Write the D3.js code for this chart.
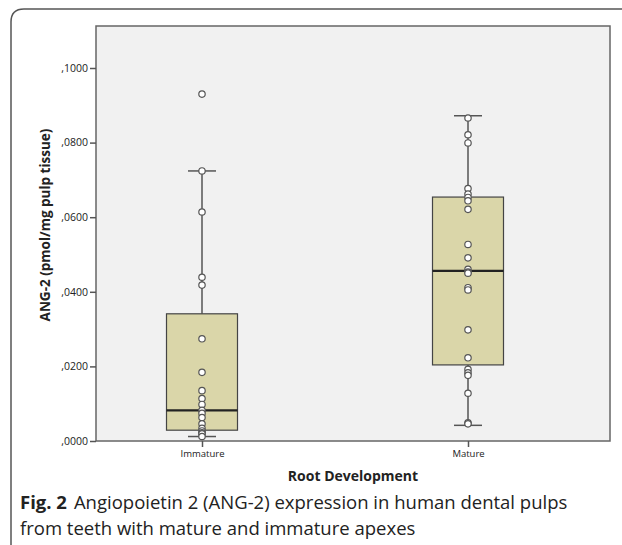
<!DOCTYPE html>
<html><head><meta charset="utf-8">
<script src="https://cdn.jsdelivr.net/npm/d3@7"></script>
<style>body{margin:0;background:#fff}</style>
</head><body>
<script>
const categories = ["Immature", "Mature"];
const immatureStats = {min: 0.0012, q1: 0.0029, median: 0.0082, q3: 0.0341, max: 0.0724};
const matureStats = {min: 0.0042, q1: 0.0204, median: 0.0456, q3: 0.0654, max: 0.0872};
const immaturePoints = [0.0930, 0.0724, 0.0614, 0.0439, 0.0418, 0.0274, 0.0184, 0.0135, 0.0114, 0.0098, 0.0082, 0.0074, 0.0063, 0.0046, 0.0034, 0.0027, 0.0022, 0.0019, 0.0012];
const maturePoints = [0.0866, 0.0821, 0.0799, 0.0677, 0.0662, 0.0653, 0.0644, 0.0621, 0.0527, 0.0491, 0.0460, 0.0453, 0.0450, 0.0411, 0.0405, 0.0298, 0.0223, 0.0192, 0.0183, 0.0176, 0.0128, 0.0049, 0.0046];
const yTicks = [0, 0.02, 0.04, 0.06, 0.08, 0.10];
const yTickLabels = [",0000", ",0200", ",0400", ",0600", ",0800", ",1000"];

const stats = [immatureStats, matureStats];
const points = [immaturePoints, maturePoints];

const W = 622, H = 545;
const svg = d3.select("body").append("svg").attr("width", W).attr("height", H);

// outer frame
svg.append("path")
  .attr("d", `M11,545 L11,22 Q11,9 24,9 L622,9`)
  .attr("fill", "none").attr("stroke", "#555").attr("stroke-width", 1.5);

const L = 96, R = 610, T = 26, B = 441;
const y = d3.scaleLinear().domain([0, 0.10]).range([B, 68]);
const x = d3.scalePoint().domain(categories).range([202, 468]);
const boxW = 71;

svg.append("rect").attr("x", L).attr("y", T).attr("width", R - L).attr("height", B - T)
  .attr("fill", "#f1f1f1").attr("stroke", "#666").attr("stroke-width", 1.5);

// y axis ticks
const yAxis = d3.axisLeft(y).tickValues(yTicks).tickSize(6).tickPadding(2)
  .tickFormat((d, i) => yTickLabels[i]);
const gy = svg.append("g").attr("transform", `translate(${L},0)`).call(yAxis);
gy.select(".domain").remove();
gy.selectAll(".tick line").attr("stroke", "#555").attr("stroke-width", 1.5);
gy.selectAll(".tick text").attr("font-family", "'Open Sans', sans-serif").attr("font-size", 10.5).attr("fill", "#222");

// x axis ticks
const xAxis = d3.axisBottom(x).tickSize(6).tickPadding(3);
const gx = svg.append("g").attr("transform", `translate(0,${B})`).call(xAxis);
gx.select(".domain").remove();
gx.selectAll(".tick line").attr("stroke", "#555").attr("stroke-width", 1.5);
gx.selectAll(".tick text").attr("font-family", "'Open Sans', sans-serif").attr("font-size", 9.5).attr("fill", "#222");

// boxes
categories.forEach((c, i) => {
  const s = stats[i], cx = x(c);
  const g = svg.append("g");
  g.append("line").attr("x1", cx).attr("x2", cx).attr("y1", y(s.max)).attr("y2", y(s.q3)).attr("stroke", "#555").attr("stroke-width", 1.5);
  g.append("line").attr("x1", cx).attr("x2", cx).attr("y1", y(s.q1)).attr("y2", y(s.min)).attr("stroke", "#555").attr("stroke-width", 1.5);
  g.append("line").attr("x1", cx - 14).attr("x2", cx + 14).attr("y1", y(s.max)).attr("y2", y(s.max)).attr("stroke", "#555").attr("stroke-width", 1.5);
  g.append("line").attr("x1", cx - 14).attr("x2", cx + 14).attr("y1", y(s.min)).attr("y2", y(s.min)).attr("stroke", "#555").attr("stroke-width", 1.5);
  g.append("rect").attr("x", cx - boxW / 2).attr("y", y(s.q3)).attr("width", boxW).attr("height", y(s.q1) - y(s.q3))
    .attr("fill", "#dad6a9").attr("stroke", "#444").attr("stroke-width", 1.2);
  g.append("line").attr("x1", cx - boxW / 2).attr("x2", cx + boxW / 2).attr("y1", y(s.median)).attr("y2", y(s.median))
    .attr("stroke", "#222").attr("stroke-width", 2.2);
  g.selectAll("circle").data(points[i]).enter().append("circle")
    .attr("cx", cx).attr("cy", d => y(d)).attr("r", 3.2)
    .attr("fill", "#fff").attr("stroke", "#555").attr("stroke-width", 1.2);
});

// axis titles
svg.append("text").attr("x", 353).attr("y", 481).attr("text-anchor", "middle")
  .attr("font-family", "'Open Sans', sans-serif").attr("font-weight", "bold").attr("font-size", 14).attr("fill", "#222")
  .text("Root Development");
svg.append("text").attr("transform", `translate(50,225) rotate(-90)`).attr("text-anchor", "middle")
  .attr("font-family", "'Open Sans', sans-serif").attr("font-weight", "bold").attr("font-size", 13.5).attr("fill", "#222")
  .text("ANG-2 (pmol/mg pulp tissue)");

// caption
const cap = svg.append("text").attr("x", 20).attr("y", 509)
  .attr("font-family", "'Open Sans', sans-serif").attr("font-size", 18.5).attr("fill", "#222");
cap.append("tspan").attr("font-weight", "bold").text("Fig. 2");
cap.append("tspan").attr("dx", 7).text("Angiopoietin 2 (ANG-2) expression in human dental pulps");
svg.append("text").attr("x", 20).attr("y", 535)
  .attr("font-family", "'Open Sans', sans-serif").attr("font-size", 18.5).attr("fill", "#222")
  .text("from teeth with mature and immature apexes");
</script>
</body></html>
